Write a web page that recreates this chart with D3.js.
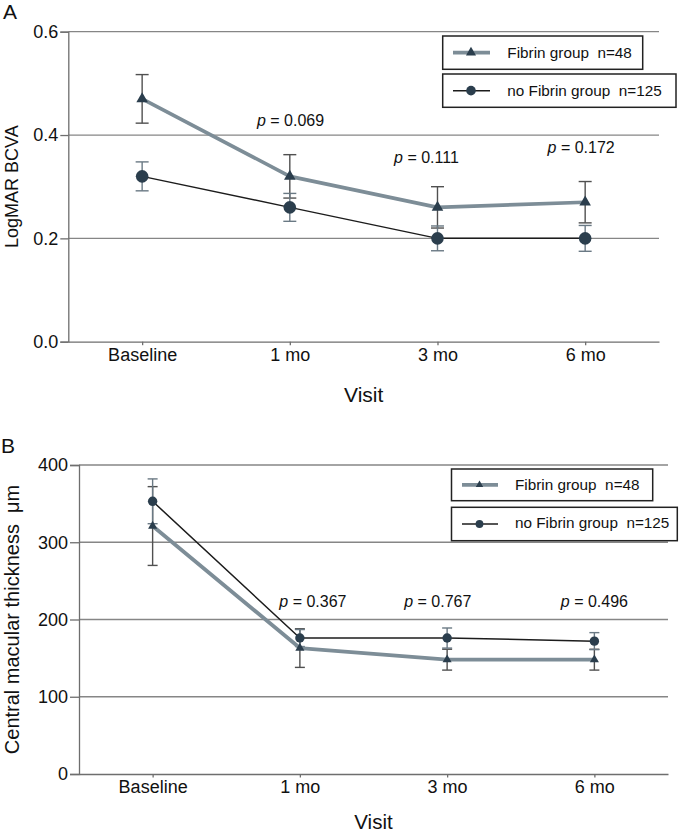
<!DOCTYPE html>
<html>
<head>
<meta charset="utf-8">
<script src="https://cdn.jsdelivr.net/npm/d3@7/dist/d3.min.js"></script>
<style>
  html, body { margin: 0; padding: 0; background: #fff; }
  svg { display: block; font-family: "Liberation Sans", Arial, Helvetica, sans-serif; }
  text { white-space: pre; }
</style>
</head>
<body>
<svg id="chart" width="685" height="834"></svg>
<script>
// ---------------- DATA ----------------
const visits = ["Baseline", "1 mo", "3 mo", "6 mo"];

// Panel A: LogMAR BCVA
const bcvaFibrin       = [0.47, 0.32, 0.26, 0.27];
const bcvaFibrinErr    = [0.047, 0.042, 0.04, 0.04];
const bcvaNoFibrin     = [0.32, 0.26, 0.20, 0.20];
const bcvaNoFibrinErr  = [0.028, 0.027, 0.024, 0.025];
const bcvaTicks        = [0, 0.2, 0.4, 0.6];
const bcvaTickLabels   = ["0.0", "0.2", "0.4", "0.6"];
const bcvaPVisits      = ["1 mo", "3 mo", "6 mo"];
const bcvaPValues      = ["0.069", "0.111", "0.172"];

// Panel B: Central macular thickness
const cmtFibrin        = [321, 163, 148, 148];
const cmtFibrinErr     = [51, 25, 13.5, 13.5];
const cmtNoFibrin      = [353, 176, 176, 172];
const cmtNoFibrinErr   = [29, 11, 13, 11];
const cmtTicks         = [0, 100, 200, 300, 400];
const cmtTickLabels    = ["0", "100", "200", "300", "400"];
const cmtPVisits       = ["1 mo", "3 mo", "6 mo"];
const cmtPValues       = ["0.367", "0.767", "0.496"];

const seriesNames = ["Fibrin group  n=48", "no Fibrin group  n=125"];

// ---------------- STYLE / LAYOUT ----------------
const C = {
  grid: "#868686", axis: "#6e6e6e",
  fibrinLine: "#7d8d97", noFibrinLine: "#1c1c1c",
  marker: "#2b3e4d", fibrinErr: "#505050", noFibrinErr: "#6a7984",
  legendBorder: "#222"
};

const panels = [
  {
    letter: "A", letterX: 3, letterY: 19,
    left: 68.3, right: 659, top: 31.7, bottom: 341.7, domain: [0, 0.6],
    ticks: bcvaTicks, tickLabels: bcvaTickLabels, yTickSize: 8,
    fib: bcvaFibrin, fibErr: bcvaFibrinErr, no: bcvaNoFibrin, noErr: bcvaNoFibrinErr,
    pVisits: bcvaPVisits, pValues: bcvaPValues,
    pPos: [{dx: 0.7, y: 126}, {dx: -11, y: 162.7}, {dx: -4, y: 153.3}],
    ylabel: "LogMAR BCVA", ylabelX: 18, ylabelSize: 18,
    xlabelY: 401.7, xlabelSize: 21,
    triSize: 58, circR: 6.3, capW: 13, fibW: 3.6,
    legend: {x: 442.7, box1: [36, 69.3, 642.7], box2: [74, 107.3, 676],
             lineX: [453, 490], mX: 471, textX: 507.3, base: [57.5, 95.7],
             triSize: 44, circR: 4.8}
  },
  {
    letter: "B", letterX: 1, letterY: 453,
    left: 79, right: 668, top: 465, bottom: 774, domain: [0, 400],
    ticks: cmtTicks, tickLabels: cmtTickLabels, yTickSize: 9,
    fib: cmtFibrin, fibErr: cmtFibrinErr, no: cmtNoFibrin, noErr: cmtNoFibrinErr,
    pVisits: cmtPVisits, pValues: cmtPValues,
    pPos: [{dx: 13, y: 606.7}, {dx: -9.3, y: 606.7}, {dx: 0, y: 606.7}],
    ylabel: "Central macular thickness  \u03bcm", ylabelX: 18.5, ylabelSize: 20,
    xlabelY: 829, xlabelSize: 20.5,
    triSize: 36, circR: 4.7, capW: 10, fibW: 3.8,
    legend: {x: 451.5, box1: [469, 500.7, 652.7], box2: [507.3, 540.7, 677.3],
             lineX: [462, 498], mX: 479.5, textX: 515, base: [489.5, 527.5],
             triSize: 24, circR: 3.9}
  }
];

const svg = d3.select("#chart");

function drawPanel(p) {
  const g = svg.append("g");
  const x = d3.scalePoint().domain(visits).range([p.left, p.right]).padding(0.5);
  const y = d3.scaleLinear().domain(p.domain).range([p.bottom, p.top]);

  // panel letter
  g.append("text").attr("x", p.letterX).attr("y", p.letterY)
    .attr("font-size", 21).attr("fill", "#111").text(p.letter);

  // gridlines (non-zero ticks)
  g.append("g").selectAll("line").data(p.ticks.filter(t => t !== 0)).join("line")
    .attr("x1", p.left).attr("x2", p.right)
    .attr("y1", d => y(d)).attr("y2", d => y(d))
    .attr("stroke", C.grid).attr("stroke-width", 1.3);

  // y axis
  const yAxis = d3.axisLeft(y).tickValues(p.ticks)
    .tickFormat((d, i) => p.tickLabels[i]).tickSize(p.yTickSize).tickPadding(2);
  const ya = g.append("g").attr("transform", `translate(${p.left},0)`).call(yAxis);
  ya.select(".domain").attr("stroke", C.axis).attr("stroke-width", 1.3);
  ya.selectAll(".tick line").attr("stroke", C.axis).attr("stroke-width", 1.3);
  ya.selectAll(".tick text").attr("font-size", 18).attr("fill", "#111")
    .attr("font-family", "Liberation Sans, Arial, sans-serif");

  // x axis
  const xAxis = d3.axisBottom(x).tickSize(3.5).tickPadding(3).tickSizeOuter(0);
  const xa = g.append("g").attr("transform", `translate(0,${p.bottom})`).call(xAxis);
  xa.select(".domain").attr("stroke", C.axis).attr("stroke-width", 1.3);
  xa.selectAll(".tick line").attr("stroke", C.axis).attr("stroke-width", 1.3);
  xa.selectAll(".tick text").attr("font-size", 18).attr("fill", "#111")
    .attr("font-family", "Liberation Sans, Arial, sans-serif");

  // axis titles
  g.append("text").attr("x", (p.left + p.right) / 2).attr("y", p.xlabelY)
    .attr("text-anchor", "middle").attr("font-size", p.xlabelSize).attr("fill", "#111").text("Visit");
  g.append("text")
    .attr("transform", `translate(${p.ylabelX},${(p.top + p.bottom) / 2}) rotate(-90)`)
    .attr("text-anchor", "middle").attr("font-size", p.ylabelSize).attr("fill", "#111")
    .text(p.ylabel);

  const series = [
    {vals: p.fib, err: p.fibErr, line: C.fibrinLine, lw: p.fibW, errC: C.fibrinErr, shape: "tri"},
    {vals: p.no, err: p.noErr, line: C.noFibrinLine, lw: 1.5, errC: C.noFibrinErr, shape: "circ"}
  ];

  // error bars
  series.forEach(s => {
    const eg = g.append("g").attr("stroke", s.errC).attr("stroke-width", 1.4);
    visits.forEach((v, i) => {
      const cx = x(v), hi = y(s.vals[i] + s.err[i]), lo = y(s.vals[i] - s.err[i]);
      eg.append("line").attr("x1", cx).attr("x2", cx).attr("y1", hi).attr("y2", lo);
      eg.append("line").attr("x1", cx - p.capW / 2).attr("x2", cx + p.capW / 2).attr("y1", hi).attr("y2", hi);
      eg.append("line").attr("x1", cx - p.capW / 2).attr("x2", cx + p.capW / 2).attr("y1", lo).attr("y2", lo);
    });
  });

  // lines
  const lineGen = d3.line().x((d, i) => x(visits[i])).y(d => y(d));
  series.forEach(s => {
    g.append("path").datum(s.vals).attr("d", lineGen)
      .attr("fill", "none").attr("stroke", s.line).attr("stroke-width", s.lw)
      .attr("stroke-linejoin", "round");
  });

  // markers
  series.forEach(s => {
    if (s.shape === "tri") {
      g.append("g").selectAll("path").data(s.vals).join("path")
        .attr("d", d3.symbol(d3.symbolTriangle, p.triSize)())
        .attr("transform", (d, i) => `translate(${x(visits[i])},${y(d)})`)
        .attr("fill", C.marker);
    } else {
      g.append("g").selectAll("circle").data(s.vals).join("circle")
        .attr("cx", (d, i) => x(visits[i])).attr("cy", d => y(d)).attr("r", p.circR)
        .attr("fill", C.marker);
    }
  });

  // p-values
  p.pVisits.forEach((v, i) => {
    const t = g.append("text").attr("x", x(v) + p.pPos[i].dx).attr("y", p.pPos[i].y)
      .attr("text-anchor", "middle").attr("font-size", 16).attr("fill", "#111");
    t.append("tspan").attr("font-style", "italic").text("p");
    t.append("tspan").text(" = " + p.pValues[i]);
  });

  // legend
  const L = p.legend;
  const lg = g.append("g");
  [L.box1, L.box2].forEach((b, i) => {
    lg.append("rect").attr("x", L.x).attr("y", b[0]).attr("width", b[2] - L.x).attr("height", b[1] - b[0])
      .attr("fill", "#fff").attr("stroke", C.legendBorder).attr("stroke-width", 1.5);
    const cy = (b[0] + b[1]) / 2;
    const s = series[i];
    lg.append("line").attr("x1", L.lineX[0]).attr("x2", L.lineX[1]).attr("y1", cy).attr("y2", cy)
      .attr("stroke", s.line).attr("stroke-width", s.lw);
    if (s.shape === "tri") {
      lg.append("path").attr("d", d3.symbol(d3.symbolTriangle, L.triSize)())
        .attr("transform", `translate(${L.mX},${cy})`).attr("fill", C.marker);
    } else {
      lg.append("circle").attr("cx", L.mX).attr("cy", cy).attr("r", L.circR).attr("fill", C.marker);
    }
    lg.append("text").attr("x", L.textX).attr("y", L.base[i]).attr("font-size", 15.3)
      .attr("fill", "#111").text(seriesNames[i]);
  });
}

panels.forEach(drawPanel);
</script>
</body>
</html>
